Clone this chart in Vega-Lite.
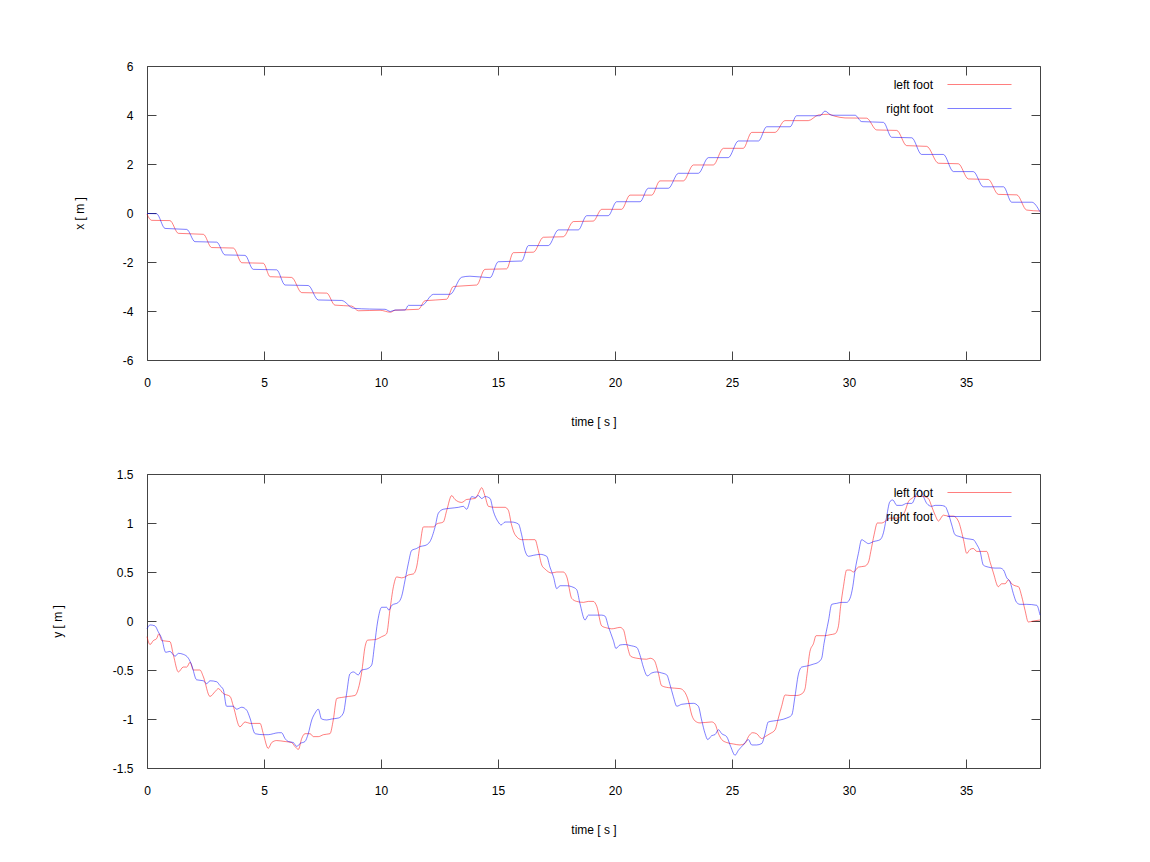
{
"$schema":"https://vega.github.io/schema/vega-lite/v6.json",
"padding":{"left":50,"top":59,"right":5,"bottom":5},
"background":"white",
"config":{"font":"Liberation Sans","view":{"stroke":"#444","strokeWidth":1},
"axis":{"labelFont":"Liberation Sans","labelFontSize":12,"labelColor":"#000","titleFont":"Liberation Sans","titleFontSize":12,"titleFontWeight":"normal","titleColor":"#000","domain":false,"grid":false,"tickColor":"#444","tickSize":-9,"labelFlush":false,"labelOverlap":false},
"legend":{"labelFont":"Liberation Sans","labelFontSize":12,"labelColor":"#000"}},
"datasets":{
"xd":[
{"t":0,"v":-0.05,"foot":"left foot"},{"t":0.2,"v":-0.3,"foot":"left foot"},{"t":0.98,"v":-0.31,"foot":"left foot"},{"t":1.34,"v":-0.83,"foot":"left foot"},{"t":2.41,"v":-0.87,"foot":"left foot"},{"t":2.76,"v":-1.41,"foot":"left foot"},{"t":3.69,"v":-1.43,"foot":"left foot"},{"t":4.05,"v":-2.03,"foot":"left foot"},{"t":4.97,"v":-2.05,"foot":"left foot"},{"t":5.26,"v":-2.6,"foot":"left foot"},{"t":6.18,"v":-2.63,"foot":"left foot"},{"t":6.61,"v":-3.25,"foot":"left foot"},{"t":7.68,"v":-3.27,"foot":"left foot"},{"t":8.03,"v":-3.76,"foot":"left foot"},{"t":8.75,"v":-3.8,"foot":"left foot"},{"t":9.03,"v":-3.99,"foot":"left foot"},{"t":9.96,"v":-3.97,"foot":"left foot"},{"t":10.4,"v":-4.05,"foot":"left foot"},{"t":10.6,"v":-3.97,"foot":"left foot"},{"t":11.6,"v":-3.93,"foot":"left foot"},{"t":11.88,"v":-3.58,"foot":"left foot"},{"t":12.8,"v":-3.52,"foot":"left foot"},{"t":13.09,"v":-3.0,"foot":"left foot"},{"t":14.09,"v":-2.94,"foot":"left foot"},{"t":14.44,"v":-2.3,"foot":"left foot"},{"t":15.37,"v":-2.28,"foot":"left foot"},{"t":15.65,"v":-1.62,"foot":"left foot"},{"t":16.51,"v":-1.6,"foot":"left foot"},{"t":16.94,"v":-0.99,"foot":"left foot"},{"t":17.79,"v":-0.97,"foot":"left foot"},{"t":18.22,"v":-0.35,"foot":"left foot"},{"t":19.07,"v":-0.33,"foot":"left foot"},{"t":19.43,"v":0.15,"foot":"left foot"},{"t":20.28,"v":0.15,"foot":"left foot"},{"t":20.64,"v":0.73,"foot":"left foot"},{"t":21.57,"v":0.73,"foot":"left foot"},{"t":21.92,"v":1.31,"foot":"left foot"},{"t":22.92,"v":1.31,"foot":"left foot"},{"t":23.35,"v":1.96,"foot":"left foot"},{"t":24.2,"v":1.96,"foot":"left foot"},{"t":24.63,"v":2.64,"foot":"left foot"},{"t":25.48,"v":2.64,"foot":"left foot"},{"t":25.84,"v":3.29,"foot":"left foot"},{"t":26.84,"v":3.29,"foot":"left foot"},{"t":27.26,"v":3.77,"foot":"left foot"},{"t":28.26,"v":3.77,"foot":"left foot"},{"t":28.69,"v":4.0,"foot":"left foot"},{"t":29.12,"v":4.03,"foot":"left foot"},{"t":29.4,"v":3.95,"foot":"left foot"},{"t":29.83,"v":3.88,"foot":"left foot"},{"t":30.75,"v":3.87,"foot":"left foot"},{"t":31.18,"v":3.39,"foot":"left foot"},{"t":32.04,"v":3.37,"foot":"left foot"},{"t":32.46,"v":2.75,"foot":"left foot"},{"t":33.32,"v":2.72,"foot":"left foot"},{"t":33.82,"v":2.03,"foot":"left foot"},{"t":34.67,"v":2.01,"foot":"left foot"},{"t":35.1,"v":1.39,"foot":"left foot"},{"t":35.95,"v":1.37,"foot":"left foot"},{"t":36.38,"v":0.76,"foot":"left foot"},{"t":37.17,"v":0.74,"foot":"left foot"},{"t":37.59,"v":0.12,"foot":"left foot"},{"t":38.16,"v":0.08,"foot":"left foot"},
{"t":0,"v":-0.02,"foot":"right foot"},{"t":0.41,"v":-0.03,"foot":"right foot"},{"t":0.77,"v":-0.63,"foot":"right foot"},{"t":1.7,"v":-0.67,"foot":"right foot"},{"t":2.05,"v":-1.17,"foot":"right foot"},{"t":2.98,"v":-1.19,"foot":"right foot"},{"t":3.33,"v":-1.71,"foot":"right foot"},{"t":4.19,"v":-1.73,"foot":"right foot"},{"t":4.54,"v":-2.3,"foot":"right foot"},{"t":5.54,"v":-2.32,"foot":"right foot"},{"t":5.9,"v":-2.94,"foot":"right foot"},{"t":6.89,"v":-2.96,"foot":"right foot"},{"t":7.32,"v":-3.55,"foot":"right foot"},{"t":8.32,"v":-3.57,"foot":"right foot"},{"t":8.82,"v":-3.89,"foot":"right foot"},{"t":9.5,"v":-3.92,"foot":"right foot"},{"t":10.17,"v":-3.93,"foot":"right foot"},{"t":10.4,"v":-4.02,"foot":"right foot"},{"t":10.6,"v":-3.96,"foot":"right foot"},{"t":11.03,"v":-3.96,"foot":"right foot"},{"t":11.17,"v":-3.77,"foot":"right foot"},{"t":11.74,"v":-3.77,"foot":"right foot"},{"t":12.24,"v":-3.32,"foot":"right foot"},{"t":12.95,"v":-3.32,"foot":"right foot"},{"t":13.45,"v":-2.62,"foot":"right foot"},{"t":13.8,"v":-2.58,"foot":"right foot"},{"t":14.66,"v":-2.64,"foot":"right foot"},{"t":15.01,"v":-1.99,"foot":"right foot"},{"t":16.01,"v":-1.96,"foot":"right foot"},{"t":16.3,"v":-1.33,"foot":"right foot"},{"t":17.15,"v":-1.33,"foot":"right foot"},{"t":17.58,"v":-0.69,"foot":"right foot"},{"t":18.43,"v":-0.69,"foot":"right foot"},{"t":18.79,"v":-0.11,"foot":"right foot"},{"t":19.71,"v":-0.11,"foot":"right foot"},{"t":20.07,"v":0.46,"foot":"right foot"},{"t":21.07,"v":0.46,"foot":"right foot"},{"t":21.42,"v":1.01,"foot":"right foot"},{"t":22.28,"v":1.01,"foot":"right foot"},{"t":22.71,"v":1.62,"foot":"right foot"},{"t":23.56,"v":1.62,"foot":"right foot"},{"t":23.99,"v":2.26,"foot":"right foot"},{"t":24.84,"v":2.26,"foot":"right foot"},{"t":25.27,"v":2.94,"foot":"right foot"},{"t":26.13,"v":2.94,"foot":"right foot"},{"t":26.48,"v":3.52,"foot":"right foot"},{"t":27.48,"v":3.52,"foot":"right foot"},{"t":27.76,"v":3.97,"foot":"right foot"},{"t":28.76,"v":3.97,"foot":"right foot"},{"t":28.97,"v":4.16,"foot":"right foot"},{"t":29.26,"v":3.99,"foot":"right foot"},{"t":30.26,"v":3.99,"foot":"right foot"},{"t":30.54,"v":3.73,"foot":"right foot"},{"t":31.47,"v":3.7,"foot":"right foot"},{"t":31.82,"v":3.09,"foot":"right foot"},{"t":32.68,"v":3.07,"foot":"right foot"},{"t":33.1,"v":2.39,"foot":"right foot"},{"t":34.03,"v":2.39,"foot":"right foot"},{"t":34.46,"v":1.69,"foot":"right foot"},{"t":35.31,"v":1.69,"foot":"right foot"},{"t":35.74,"v":1.07,"foot":"right foot"},{"t":36.6,"v":1.07,"foot":"right foot"},{"t":36.95,"v":0.44,"foot":"right foot"},{"t":37.81,"v":0.44,"foot":"right foot"},{"t":38.16,"v":0.05,"foot":"right foot"}
],
"yd":[
{"t":0,"v":-0.16,"foot":"left foot"},{"t":0.13,"v":-0.24,"foot":"left foot"},{"t":0.27,"v":-0.2,"foot":"left foot"},{"t":0.41,"v":-0.18,"foot":"left foot"},{"t":0.51,"v":-0.13,"foot":"left foot"},{"t":0.63,"v":-0.2,"foot":"left foot"},{"t":0.98,"v":-0.21,"foot":"left foot"},{"t":1.13,"v":-0.35,"foot":"left foot"},{"t":1.34,"v":-0.52,"foot":"left foot"},{"t":1.55,"v":-0.47,"foot":"left foot"},{"t":1.7,"v":-0.47,"foot":"left foot"},{"t":1.84,"v":-0.42,"foot":"left foot"},{"t":1.98,"v":-0.5,"foot":"left foot"},{"t":2.26,"v":-0.5,"foot":"left foot"},{"t":2.41,"v":-0.57,"foot":"left foot"},{"t":2.69,"v":-0.77,"foot":"left foot"},{"t":2.91,"v":-0.72,"foot":"left foot"},{"t":3.05,"v":-0.69,"foot":"left foot"},{"t":3.26,"v":-0.74,"foot":"left foot"},{"t":3.55,"v":-0.77,"foot":"left foot"},{"t":3.69,"v":-0.87,"foot":"left foot"},{"t":3.97,"v":-1.08,"foot":"left foot"},{"t":4.19,"v":-1.03,"foot":"left foot"},{"t":4.4,"v":-1.045,"foot":"left foot"},{"t":4.83,"v":-1.045,"foot":"left foot"},{"t":4.97,"v":-1.15,"foot":"left foot"},{"t":5.18,"v":-1.3,"foot":"left foot"},{"t":5.33,"v":-1.24,"foot":"left foot"},{"t":5.54,"v":-1.22,"foot":"left foot"},{"t":5.9,"v":-1.23,"foot":"left foot"},{"t":6.18,"v":-1.24,"foot":"left foot"},{"t":6.32,"v":-1.28,"foot":"left foot"},{"t":6.47,"v":-1.31,"foot":"left foot"},{"t":6.61,"v":-1.2,"foot":"left foot"},{"t":6.75,"v":-1.15,"foot":"left foot"},{"t":6.97,"v":-1.15,"foot":"left foot"},{"t":7.11,"v":-1.18,"foot":"left foot"},{"t":7.32,"v":-1.18,"foot":"left foot"},{"t":7.54,"v":-1.16,"foot":"left foot"},{"t":7.82,"v":-1.15,"foot":"left foot"},{"t":7.96,"v":-1.01,"foot":"left foot"},{"t":8.11,"v":-0.79,"foot":"left foot"},{"t":8.32,"v":-0.78,"foot":"left foot"},{"t":8.6,"v":-0.77,"foot":"left foot"},{"t":8.89,"v":-0.76,"foot":"left foot"},{"t":9.03,"v":-0.69,"foot":"left foot"},{"t":9.17,"v":-0.53,"foot":"left foot"},{"t":9.32,"v":-0.26,"foot":"left foot"},{"t":9.43,"v":-0.195,"foot":"left foot"},{"t":9.74,"v":-0.19,"foot":"left foot"},{"t":10.03,"v":-0.16,"foot":"left foot"},{"t":10.24,"v":-0.13,"foot":"left foot"},{"t":10.38,"v":0.11,"foot":"left foot"},{"t":10.53,"v":0.35,"foot":"left foot"},{"t":10.67,"v":0.45,"foot":"left foot"},{"t":10.88,"v":0.44,"foot":"left foot"},{"t":11.03,"v":0.45,"foot":"left foot"},{"t":11.17,"v":0.47,"foot":"left foot"},{"t":11.38,"v":0.48,"foot":"left foot"},{"t":11.52,"v":0.55,"foot":"left foot"},{"t":11.67,"v":0.78,"foot":"left foot"},{"t":11.81,"v":0.96,"foot":"left foot"},{"t":12.02,"v":0.96,"foot":"left foot"},{"t":12.24,"v":0.96,"foot":"left foot"},{"t":12.38,"v":0.99,"foot":"left foot"},{"t":12.66,"v":1.01,"foot":"left foot"},{"t":12.81,"v":1.13,"foot":"left foot"},{"t":13.02,"v":1.28,"foot":"left foot"},{"t":13.16,"v":1.24,"foot":"left foot"},{"t":13.45,"v":1.21,"foot":"left foot"},{"t":13.66,"v":1.24,"foot":"left foot"},{"t":14.02,"v":1.25,"foot":"left foot"},{"t":14.16,"v":1.3,"foot":"left foot"},{"t":14.3,"v":1.36,"foot":"left foot"},{"t":14.45,"v":1.27,"foot":"left foot"},{"t":14.59,"v":1.17,"foot":"left foot"},{"t":14.87,"v":1.16,"foot":"left foot"},{"t":15.3,"v":1.16,"foot":"left foot"},{"t":15.44,"v":1.13,"foot":"left foot"},{"t":15.58,"v":0.98,"foot":"left foot"},{"t":15.73,"v":0.88,"foot":"left foot"},{"t":16.01,"v":0.83,"foot":"left foot"},{"t":16.3,"v":0.83,"foot":"left foot"},{"t":16.58,"v":0.83,"foot":"left foot"},{"t":16.72,"v":0.72,"foot":"left foot"},{"t":16.87,"v":0.57,"foot":"left foot"},{"t":17.01,"v":0.53,"foot":"left foot"},{"t":17.29,"v":0.49,"foot":"left foot"},{"t":17.51,"v":0.5,"foot":"left foot"},{"t":17.79,"v":0.5,"foot":"left foot"},{"t":17.94,"v":0.45,"foot":"left foot"},{"t":18.15,"v":0.23,"foot":"left foot"},{"t":18.36,"v":0.2,"foot":"left foot"},{"t":18.65,"v":0.19,"foot":"left foot"},{"t":18.86,"v":0.2,"foot":"left foot"},{"t":19.07,"v":0.2,"foot":"left foot"},{"t":19.22,"v":0.15,"foot":"left foot"},{"t":19.43,"v":-0.05,"foot":"left foot"},{"t":19.64,"v":-0.07,"foot":"left foot"},{"t":19.86,"v":-0.08,"foot":"left foot"},{"t":20.0,"v":-0.075,"foot":"left foot"},{"t":20.21,"v":-0.065,"foot":"left foot"},{"t":20.36,"v":-0.09,"foot":"left foot"},{"t":20.5,"v":-0.23,"foot":"left foot"},{"t":20.67,"v":-0.36,"foot":"left foot"},{"t":20.93,"v":-0.38,"foot":"left foot"},{"t":21.35,"v":-0.39,"foot":"left foot"},{"t":21.5,"v":-0.38,"foot":"left foot"},{"t":21.67,"v":-0.4,"foot":"left foot"},{"t":21.85,"v":-0.53,"foot":"left foot"},{"t":21.99,"v":-0.66,"foot":"left foot"},{"t":22.28,"v":-0.68,"foot":"left foot"},{"t":22.78,"v":-0.69,"foot":"left foot"},{"t":22.99,"v":-0.73,"foot":"left foot"},{"t":23.13,"v":-0.81,"foot":"left foot"},{"t":23.28,"v":-0.96,"foot":"left foot"},{"t":23.42,"v":-1.02,"foot":"left foot"},{"t":23.63,"v":-1.04,"foot":"left foot"},{"t":24.13,"v":-1.03,"foot":"left foot"},{"t":24.27,"v":-1.05,"foot":"left foot"},{"t":24.42,"v":-1.15,"foot":"left foot"},{"t":24.56,"v":-1.21,"foot":"left foot"},{"t":24.77,"v":-1.24,"foot":"left foot"},{"t":25.06,"v":-1.255,"foot":"left foot"},{"t":25.34,"v":-1.265,"foot":"left foot"},{"t":25.55,"v":-1.25,"foot":"left foot"},{"t":25.7,"v":-1.18,"foot":"left foot"},{"t":25.88,"v":-1.14,"foot":"left foot"},{"t":26.05,"v":-1.15,"foot":"left foot"},{"t":26.27,"v":-1.2,"foot":"left foot"},{"t":26.41,"v":-1.18,"foot":"left foot"},{"t":26.62,"v":-1.15,"foot":"left foot"},{"t":26.84,"v":-1.11,"foot":"left foot"},{"t":26.98,"v":-0.99,"foot":"left foot"},{"t":27.12,"v":-0.87,"foot":"left foot"},{"t":27.27,"v":-0.755,"foot":"left foot"},{"t":27.48,"v":-0.76,"foot":"left foot"},{"t":27.76,"v":-0.76,"foot":"left foot"},{"t":28.0,"v":-0.74,"foot":"left foot"},{"t":28.12,"v":-0.69,"foot":"left foot"},{"t":28.19,"v":-0.57,"foot":"left foot"},{"t":28.33,"v":-0.31,"foot":"left foot"},{"t":28.48,"v":-0.23,"foot":"left foot"},{"t":28.59,"v":-0.15,"foot":"left foot"},{"t":28.76,"v":-0.15,"foot":"left foot"},{"t":28.97,"v":-0.15,"foot":"left foot"},{"t":29.19,"v":-0.14,"foot":"left foot"},{"t":29.4,"v":-0.13,"foot":"left foot"},{"t":29.54,"v":-0.06,"foot":"left foot"},{"t":29.64,"v":0.15,"foot":"left foot"},{"t":29.76,"v":0.35,"foot":"left foot"},{"t":29.9,"v":0.52,"foot":"left foot"},{"t":30.04,"v":0.52,"foot":"left foot"},{"t":30.19,"v":0.5,"foot":"left foot"},{"t":30.4,"v":0.55,"foot":"left foot"},{"t":30.68,"v":0.56,"foot":"left foot"},{"t":30.83,"v":0.6,"foot":"left foot"},{"t":30.93,"v":0.71,"foot":"left foot"},{"t":31.07,"v":0.88,"foot":"left foot"},{"t":31.21,"v":1.0,"foot":"left foot"},{"t":31.4,"v":1.0,"foot":"left foot"},{"t":31.61,"v":1.03,"foot":"left foot"},{"t":31.75,"v":1.05,"foot":"left foot"},{"t":32.04,"v":1.05,"foot":"left foot"},{"t":32.25,"v":1.065,"foot":"left foot"},{"t":32.39,"v":1.12,"foot":"left foot"},{"t":32.54,"v":1.22,"foot":"left foot"},{"t":32.68,"v":1.25,"foot":"left foot"},{"t":32.82,"v":1.27,"foot":"left foot"},{"t":33.18,"v":1.27,"foot":"left foot"},{"t":33.39,"v":1.25,"foot":"left foot"},{"t":33.53,"v":1.17,"foot":"left foot"},{"t":33.68,"v":1.08,"foot":"left foot"},{"t":33.82,"v":1.02,"foot":"left foot"},{"t":34.03,"v":1.08,"foot":"left foot"},{"t":34.25,"v":1.07,"foot":"left foot"},{"t":34.46,"v":1.07,"foot":"left foot"},{"t":34.67,"v":1.02,"foot":"left foot"},{"t":34.89,"v":0.83,"foot":"left foot"},{"t":35.03,"v":0.69,"foot":"left foot"},{"t":35.17,"v":0.73,"foot":"left foot"},{"t":35.31,"v":0.74,"foot":"left foot"},{"t":35.46,"v":0.71,"foot":"left foot"},{"t":35.88,"v":0.71,"foot":"left foot"},{"t":36.03,"v":0.6,"foot":"left foot"},{"t":36.17,"v":0.49,"foot":"left foot"},{"t":36.38,"v":0.35,"foot":"left foot"},{"t":36.52,"v":0.38,"foot":"left foot"},{"t":36.67,"v":0.38,"foot":"left foot"},{"t":36.81,"v":0.42,"foot":"left foot"},{"t":36.95,"v":0.38,"foot":"left foot"},{"t":37.09,"v":0.36,"foot":"left foot"},{"t":37.24,"v":0.35,"foot":"left foot"},{"t":37.38,"v":0.25,"foot":"left foot"},{"t":37.52,"v":0.11,"foot":"left foot"},{"t":37.66,"v":-0.01,"foot":"left foot"},{"t":37.88,"v":0.0,"foot":"left foot"},{"t":38.16,"v":0.01,"foot":"left foot"},
{"t":0,"v":-0.08,"foot":"right foot"},{"t":0.13,"v":-0.04,"foot":"right foot"},{"t":0.34,"v":-0.05,"foot":"right foot"},{"t":0.48,"v":-0.11,"foot":"right foot"},{"t":0.63,"v":-0.18,"foot":"right foot"},{"t":0.8,"v":-0.32,"foot":"right foot"},{"t":0.98,"v":-0.31,"foot":"right foot"},{"t":1.2,"v":-0.36,"foot":"right foot"},{"t":1.34,"v":-0.33,"foot":"right foot"},{"t":1.55,"v":-0.34,"foot":"right foot"},{"t":1.77,"v":-0.38,"foot":"right foot"},{"t":1.91,"v":-0.45,"foot":"right foot"},{"t":2.12,"v":-0.6,"foot":"right foot"},{"t":2.41,"v":-0.61,"foot":"right foot"},{"t":2.55,"v":-0.64,"foot":"right foot"},{"t":2.69,"v":-0.61,"foot":"right foot"},{"t":2.98,"v":-0.62,"foot":"right foot"},{"t":3.12,"v":-0.66,"foot":"right foot"},{"t":3.26,"v":-0.7,"foot":"right foot"},{"t":3.4,"v":-0.87,"foot":"right foot"},{"t":3.69,"v":-0.87,"foot":"right foot"},{"t":3.83,"v":-0.9,"foot":"right foot"},{"t":4.05,"v":-0.88,"foot":"right foot"},{"t":4.26,"v":-0.91,"foot":"right foot"},{"t":4.4,"v":-0.99,"foot":"right foot"},{"t":4.62,"v":-1.15,"foot":"right foot"},{"t":4.97,"v":-1.16,"foot":"right foot"},{"t":5.18,"v":-1.16,"foot":"right foot"},{"t":5.4,"v":-1.15,"foot":"right foot"},{"t":5.61,"v":-1.14,"foot":"right foot"},{"t":5.75,"v":-1.14,"foot":"right foot"},{"t":5.9,"v":-1.2,"foot":"right foot"},{"t":6.04,"v":-1.23,"foot":"right foot"},{"t":6.25,"v":-1.24,"foot":"right foot"},{"t":6.4,"v":-1.28,"foot":"right foot"},{"t":6.54,"v":-1.25,"foot":"right foot"},{"t":6.75,"v":-1.23,"foot":"right foot"},{"t":6.89,"v":-1.15,"foot":"right foot"},{"t":7.04,"v":-1.01,"foot":"right foot"},{"t":7.18,"v":-0.94,"foot":"right foot"},{"t":7.32,"v":-0.9,"foot":"right foot"},{"t":7.46,"v":-1.0,"foot":"right foot"},{"t":7.68,"v":-1.01,"foot":"right foot"},{"t":7.89,"v":-1.0,"foot":"right foot"},{"t":8.18,"v":-0.99,"foot":"right foot"},{"t":8.39,"v":-0.94,"foot":"right foot"},{"t":8.53,"v":-0.74,"foot":"right foot"},{"t":8.67,"v":-0.54,"foot":"right foot"},{"t":8.82,"v":-0.52,"foot":"right foot"},{"t":9.03,"v":-0.55,"foot":"right foot"},{"t":9.17,"v":-0.5,"foot":"right foot"},{"t":9.39,"v":-0.49,"foot":"right foot"},{"t":9.6,"v":-0.45,"foot":"right foot"},{"t":9.72,"v":-0.25,"foot":"right foot"},{"t":9.86,"v":0.0,"foot":"right foot"},{"t":10.03,"v":0.14,"foot":"right foot"},{"t":10.24,"v":0.14,"foot":"right foot"},{"t":10.34,"v":0.11,"foot":"right foot"},{"t":10.46,"v":0.16,"foot":"right foot"},{"t":10.74,"v":0.19,"foot":"right foot"},{"t":10.88,"v":0.25,"foot":"right foot"},{"t":11.03,"v":0.42,"foot":"right foot"},{"t":11.17,"v":0.59,"foot":"right foot"},{"t":11.31,"v":0.72,"foot":"right foot"},{"t":11.52,"v":0.74,"foot":"right foot"},{"t":11.67,"v":0.76,"foot":"right foot"},{"t":11.88,"v":0.77,"foot":"right foot"},{"t":12.09,"v":0.81,"foot":"right foot"},{"t":12.31,"v":0.96,"foot":"right foot"},{"t":12.45,"v":1.1,"foot":"right foot"},{"t":12.66,"v":1.14,"foot":"right foot"},{"t":12.95,"v":1.15,"foot":"right foot"},{"t":13.31,"v":1.16,"foot":"right foot"},{"t":13.52,"v":1.17,"foot":"right foot"},{"t":13.66,"v":1.14,"foot":"right foot"},{"t":13.88,"v":1.27,"foot":"right foot"},{"t":14.02,"v":1.26,"foot":"right foot"},{"t":14.16,"v":1.28,"foot":"right foot"},{"t":14.3,"v":1.25,"foot":"right foot"},{"t":14.45,"v":1.27,"foot":"right foot"},{"t":14.66,"v":1.25,"foot":"right foot"},{"t":14.8,"v":1.12,"foot":"right foot"},{"t":15.01,"v":1.01,"foot":"right foot"},{"t":15.13,"v":0.98,"foot":"right foot"},{"t":15.3,"v":1.01,"foot":"right foot"},{"t":15.58,"v":1.01,"foot":"right foot"},{"t":15.87,"v":0.99,"foot":"right foot"},{"t":16.01,"v":0.88,"foot":"right foot"},{"t":16.15,"v":0.72,"foot":"right foot"},{"t":16.3,"v":0.66,"foot":"right foot"},{"t":16.51,"v":0.67,"foot":"right foot"},{"t":16.8,"v":0.68,"foot":"right foot"},{"t":17.08,"v":0.66,"foot":"right foot"},{"t":17.22,"v":0.55,"foot":"right foot"},{"t":17.37,"v":0.45,"foot":"right foot"},{"t":17.51,"v":0.33,"foot":"right foot"},{"t":17.65,"v":0.36,"foot":"right foot"},{"t":17.94,"v":0.36,"foot":"right foot"},{"t":18.15,"v":0.35,"foot":"right foot"},{"t":18.36,"v":0.32,"foot":"right foot"},{"t":18.5,"v":0.18,"foot":"right foot"},{"t":18.72,"v":0.01,"foot":"right foot"},{"t":18.86,"v":0.06,"foot":"right foot"},{"t":19.43,"v":0.06,"foot":"right foot"},{"t":19.57,"v":0.05,"foot":"right foot"},{"t":19.72,"v":-0.06,"foot":"right foot"},{"t":19.93,"v":-0.2,"foot":"right foot"},{"t":20.04,"v":-0.28,"foot":"right foot"},{"t":20.21,"v":-0.245,"foot":"right foot"},{"t":20.43,"v":-0.24,"foot":"right foot"},{"t":20.64,"v":-0.25,"foot":"right foot"},{"t":20.93,"v":-0.27,"foot":"right foot"},{"t":21.07,"v":-0.35,"foot":"right foot"},{"t":21.21,"v":-0.47,"foot":"right foot"},{"t":21.38,"v":-0.56,"foot":"right foot"},{"t":21.57,"v":-0.53,"foot":"right foot"},{"t":21.78,"v":-0.52,"foot":"right foot"},{"t":21.99,"v":-0.53,"foot":"right foot"},{"t":22.21,"v":-0.55,"foot":"right foot"},{"t":22.35,"v":-0.65,"foot":"right foot"},{"t":22.49,"v":-0.77,"foot":"right foot"},{"t":22.64,"v":-0.87,"foot":"right foot"},{"t":22.85,"v":-0.85,"foot":"right foot"},{"t":23.35,"v":-0.84,"foot":"right foot"},{"t":23.56,"v":-0.87,"foot":"right foot"},{"t":23.7,"v":-1.01,"foot":"right foot"},{"t":23.85,"v":-1.15,"foot":"right foot"},{"t":23.96,"v":-1.21,"foot":"right foot"},{"t":24.13,"v":-1.17,"foot":"right foot"},{"t":24.27,"v":-1.16,"foot":"right foot"},{"t":24.42,"v":-1.11,"foot":"right foot"},{"t":24.56,"v":-1.15,"foot":"right foot"},{"t":24.77,"v":-1.18,"foot":"right foot"},{"t":24.94,"v":-1.28,"foot":"right foot"},{"t":25.13,"v":-1.37,"foot":"right foot"},{"t":25.27,"v":-1.32,"foot":"right foot"},{"t":25.48,"v":-1.265,"foot":"right foot"},{"t":25.7,"v":-1.21,"foot":"right foot"},{"t":25.84,"v":-1.265,"foot":"right foot"},{"t":26.05,"v":-1.265,"foot":"right foot"},{"t":26.27,"v":-1.25,"foot":"right foot"},{"t":26.41,"v":-1.15,"foot":"right foot"},{"t":26.55,"v":-1.03,"foot":"right foot"},{"t":26.77,"v":-1.02,"foot":"right foot"},{"t":27.05,"v":-1.01,"foot":"right foot"},{"t":27.34,"v":-0.99,"foot":"right foot"},{"t":27.55,"v":-0.96,"foot":"right foot"},{"t":27.69,"v":-0.77,"foot":"right foot"},{"t":27.83,"v":-0.55,"foot":"right foot"},{"t":27.98,"v":-0.47,"foot":"right foot"},{"t":28.19,"v":-0.46,"foot":"right foot"},{"t":28.48,"v":-0.44,"foot":"right foot"},{"t":28.69,"v":-0.42,"foot":"right foot"},{"t":28.83,"v":-0.38,"foot":"right foot"},{"t":28.93,"v":-0.23,"foot":"right foot"},{"t":29.12,"v":0.0,"foot":"right foot"},{"t":29.26,"v":0.17,"foot":"right foot"},{"t":29.47,"v":0.18,"foot":"right foot"},{"t":29.69,"v":0.19,"foot":"right foot"},{"t":29.9,"v":0.19,"foot":"right foot"},{"t":30.04,"v":0.23,"foot":"right foot"},{"t":30.16,"v":0.35,"foot":"right foot"},{"t":30.26,"v":0.52,"foot":"right foot"},{"t":30.4,"v":0.69,"foot":"right foot"},{"t":30.54,"v":0.83,"foot":"right foot"},{"t":30.68,"v":0.81,"foot":"right foot"},{"t":30.83,"v":0.79,"foot":"right foot"},{"t":31.04,"v":0.81,"foot":"right foot"},{"t":31.33,"v":0.83,"foot":"right foot"},{"t":31.47,"v":0.9,"foot":"right foot"},{"t":31.58,"v":1.03,"foot":"right foot"},{"t":31.75,"v":1.22,"foot":"right foot"},{"t":31.87,"v":1.235,"foot":"right foot"},{"t":32.04,"v":1.18,"foot":"right foot"},{"t":32.25,"v":1.18,"foot":"right foot"},{"t":32.46,"v":1.2,"foot":"right foot"},{"t":32.68,"v":1.2,"foot":"right foot"},{"t":32.89,"v":1.3,"foot":"right foot"},{"t":33.03,"v":1.34,"foot":"right foot"},{"t":33.18,"v":1.27,"foot":"right foot"},{"t":33.32,"v":1.2,"foot":"right foot"},{"t":33.53,"v":1.17,"foot":"right foot"},{"t":33.68,"v":1.18,"foot":"right foot"},{"t":33.89,"v":1.18,"foot":"right foot"},{"t":34.1,"v":1.17,"foot":"right foot"},{"t":34.24,"v":1.1,"foot":"right foot"},{"t":34.39,"v":0.98,"foot":"right foot"},{"t":34.53,"v":0.88,"foot":"right foot"},{"t":34.74,"v":0.86,"foot":"right foot"},{"t":35.03,"v":0.84,"foot":"right foot"},{"t":35.31,"v":0.83,"foot":"right foot"},{"t":35.46,"v":0.78,"foot":"right foot"},{"t":35.6,"v":0.71,"foot":"right foot"},{"t":35.74,"v":0.57,"foot":"right foot"},{"t":35.95,"v":0.55,"foot":"right foot"},{"t":36.24,"v":0.54,"foot":"right foot"},{"t":36.45,"v":0.54,"foot":"right foot"},{"t":36.6,"v":0.52,"foot":"right foot"},{"t":36.74,"v":0.44,"foot":"right foot"},{"t":36.88,"v":0.4,"foot":"right foot"},{"t":37.02,"v":0.28,"foot":"right foot"},{"t":37.16,"v":0.19,"foot":"right foot"},{"t":37.31,"v":0.17,"foot":"right foot"},{"t":37.59,"v":0.17,"foot":"right foot"},{"t":38.02,"v":0.16,"foot":"right foot"},{"t":38.16,"v":0.06,"foot":"right foot"}
]},
"spacing":39,
"resolve":{"scale":{"color":"independent"},"legend":{"color":"independent"}},
"vconcat":[
{"width":893,"height":294,"data":{"name":"xd"},
"resolve":{"axis":{"x":"independent","y":"independent"}},
"layer":[
{"mark":{"type":"line","strokeWidth":1,"opacity":0.5,"interpolate":"monotone"},
"encoding":{
"x":{"field":"t","type":"quantitative","scale":{"domain":[0,38.16],"nice":false,"zero":false},"axis":{"values":[0,5,10,15,20,25,30,35],"title":"time [ s ]","labelPadding":26,"titlePadding":28,"labelExpr":"datum.value + ''"}},
"y":{"field":"v","type":"quantitative","scale":{"domain":[-6,6],"nice":false},"axis":{"values":[-6,-4,-2,0,2,4,6],"title":"x [ m ]","labelPadding":23,"titlePadding":36,"labelExpr":"datum.value + ''"}},
"color":{"field":"foot","type":"nominal","scale":{"domain":["left foot","right foot"],"range":["#ff0000","#0000ff"]},
"legend":{"orient":"none","legendX":824.5,"legendY":10.5,"title":null,"symbolType":"M-4.27,0H4.27","symbolSize":225,"symbolStrokeWidth":1,"symbolOpacity":0.5,"labelAlign":"right","labelOffset":-54.5,"rowPadding":10,"padding":0}}}},
{"mark":{"type":"line","opacity":0},
"encoding":{
"x":{"field":"t","type":"quantitative","axis":{"orient":"top","labels":false,"title":null,"values":[0,5,10,15,20,25,30,35]}},
"y":{"field":"v","type":"quantitative","axis":{"orient":"right","labels":false,"title":null,"values":[-6,-4,-2,0,2,4,6]}},
"detail":{"field":"foot"}}}
]},
{"width":893,"height":294,"data":{"name":"yd"},
"resolve":{"axis":{"x":"independent","y":"independent"}},
"layer":[
{"mark":{"type":"line","strokeWidth":1,"opacity":0.5,"interpolate":"monotone"},
"encoding":{
"x":{"field":"t","type":"quantitative","scale":{"domain":[0,38.16],"nice":false,"zero":false},"axis":{"values":[0,5,10,15,20,25,30,35],"title":"time [ s ]","labelPadding":26,"titlePadding":28,"labelExpr":"datum.value + ''"}},
"y":{"field":"v","type":"quantitative","scale":{"domain":[-1.5,1.5],"nice":false},"axis":{"values":[-1.5,-1,-0.5,0,0.5,1,1.5],"title":"y [ m ]","labelPadding":23,"titlePadding":48,"labelExpr":"datum.value + ''"}},
"color":{"field":"foot","type":"nominal","scale":{"domain":["left foot","right foot"],"range":["#ff0000","#0000ff"]},
"legend":{"orient":"none","legendX":824.5,"legendY":10.5,"title":null,"symbolType":"M-4.27,0H4.27","symbolSize":225,"symbolStrokeWidth":1,"symbolOpacity":0.5,"labelAlign":"right","labelOffset":-54.5,"rowPadding":10,"padding":0}}}},
{"mark":{"type":"line","opacity":0},
"encoding":{
"x":{"field":"t","type":"quantitative","axis":{"orient":"top","labels":false,"title":null,"values":[0,5,10,15,20,25,30,35]}},
"y":{"field":"v","type":"quantitative","axis":{"orient":"right","labels":false,"title":null,"values":[-1.5,-1,-0.5,0,0.5,1,1.5]}},
"detail":{"field":"foot"}}}
]}
]
}
